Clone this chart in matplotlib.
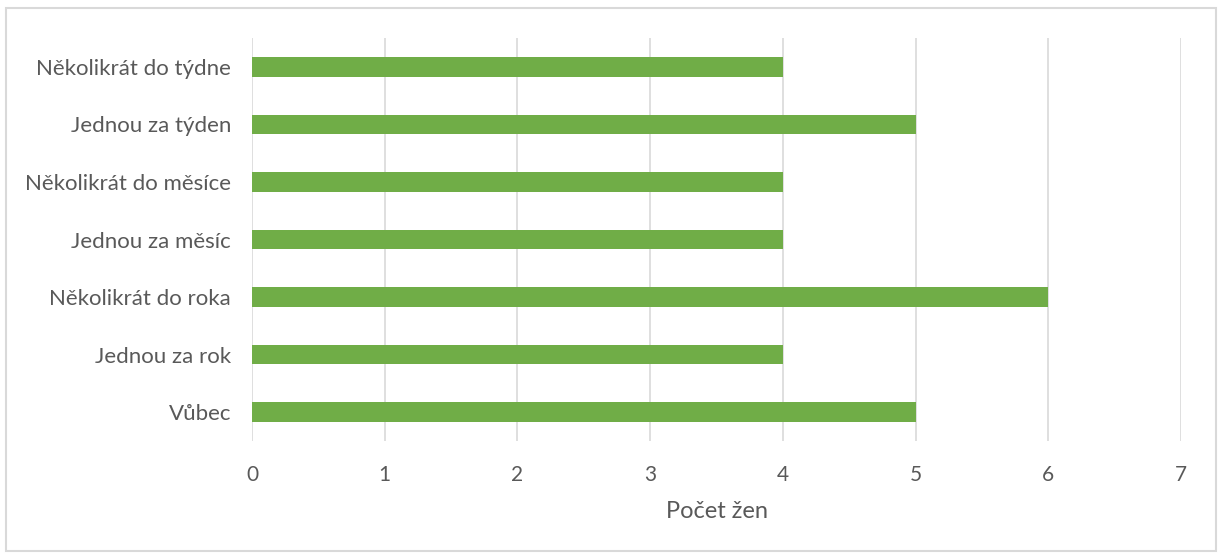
import matplotlib.pyplot as plt
from matplotlib.patches import Rectangle

# Frequency categories (top to bottom) and number of women in each
categories = [
    "Několikrát do týdne",
    "Jednou za týden",
    "Několikrát do měsíce",
    "Jednou za měsíc",
    "Několikrát do roka",
    "Jednou za rok",
    "Vůbec",
]
counts = [4, 5, 4, 4, 6, 4, 5]
x_ticks = [0, 1, 2, 3, 4, 5, 6, 7]

plt.rcParams['font.family'] = ['Lato', 'DejaVu Sans']
text_color = "#595959"
grid_color = "#D9D9D9"

fig = plt.figure(figsize=(12.22, 5.53), dpi=100)
ax = fig.add_axes([252 / 1222, 1 - 441 / 553, (1181 - 252) / 1222, (441 - 38) / 553])

pos = list(range(len(categories)))
ax.barh(pos, counts, height=0.34, color="#70AD47", zorder=3)

ax.set_ylim(len(categories) - 0.5, -0.5)
ax.set_yticks(pos)
ax.set_yticklabels(categories)
ax.set_xlim(0, 7)
ax.set_xticks(x_ticks)

ax.grid(axis="x", color=grid_color, linewidth=1.2, zorder=0)
for s in ax.spines.values():
    s.set_visible(False)
ax.tick_params(axis="both", length=0, labelcolor=text_color)
ax.tick_params(axis="y", pad=15, labelsize=16)
ax.tick_params(axis="x", pad=17, labelsize=15)

ax.set_xlabel("Počet žen", fontsize=17, color=text_color, labelpad=12)

# light outer frame around the chart area
fig.patches.append(Rectangle((6 / 1222, 2 / 553), 1210 / 1222, 543 / 553,
                             transform=fig.transFigure, fill=False,
                             edgecolor=grid_color, linewidth=1.5))

fig.savefig("out.png", dpi=100)
